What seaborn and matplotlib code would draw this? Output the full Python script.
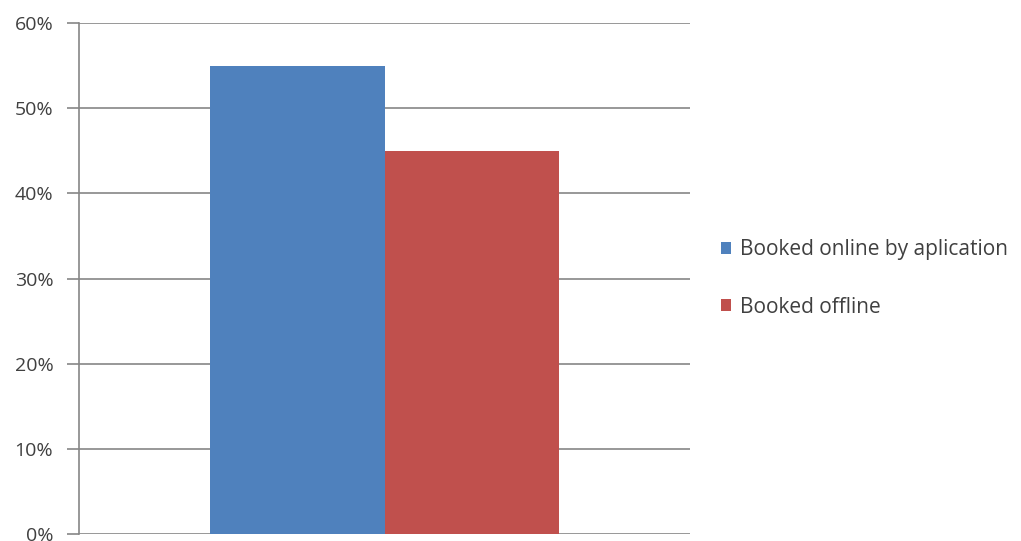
import matplotlib
matplotlib.use("Agg")
import matplotlib.pyplot as plt
import seaborn as sns
import pandas as pd
from matplotlib.ticker import PercentFormatter

categories = ["Booking"]
series = ["Booked online by aplication", "Booked offline"]
values = [55, 45]
colors = ["#4F81BD", "#C0504D"]
yticks = [0, 10, 20, 30, 40, 50, 60]

df = pd.DataFrame({"cat": categories * len(series), "series": series, "value": values})

sns.set_theme(style="white")
plt.rcParams["font.family"] = ["Open Sans", "DejaVu Sans"]

fig = plt.figure(figsize=(10.21, 5.41), dpi=100)
ax = fig.add_axes([79 / 1021, 7 / 541, (690 - 79) / 1021, (534 - 23) / 541])

sns.barplot(data=df, x="cat", y="value", hue="series", palette=colors,
            width=0.571, gap=0, saturation=1, ax=ax, legend=True)

ax.set_ylim(0, 60)
ax.set_xlim(-0.5, 0.5)
ax.set_yticks(yticks)
ax.yaxis.set_major_formatter(PercentFormatter(decimals=0))
ax.set_xlabel("")
ax.set_ylabel("")
ax.set_xticks([])
ax.grid(axis="y", color="#868686", linewidth=1.2)
ax.set_axisbelow(True)
for s in ["top", "right", "bottom"]:
    ax.spines[s].set_visible(False)
ax.spines["left"].set_color("#868686")
ax.spines["left"].set_linewidth(1.2)
ax.tick_params(axis="y", length=9, width=1.2, color="#868686", labelsize=14,
               labelcolor="#404040", pad=9.5, left=True)

for p in ax.patches:
    p.set_edgecolor("none")

handles, labels = ax.get_legend_handles_labels()
leg = ax.legend(handles, labels, loc="center left", bbox_to_anchor=(1.02, 0.5),
                frameon=False, fontsize=15, labelcolor="#404040",
                handlelength=0.5, handleheight=0.5, handletextpad=0.4,
                labelspacing=1.75)

fig.savefig("out.png", dpi=100)
